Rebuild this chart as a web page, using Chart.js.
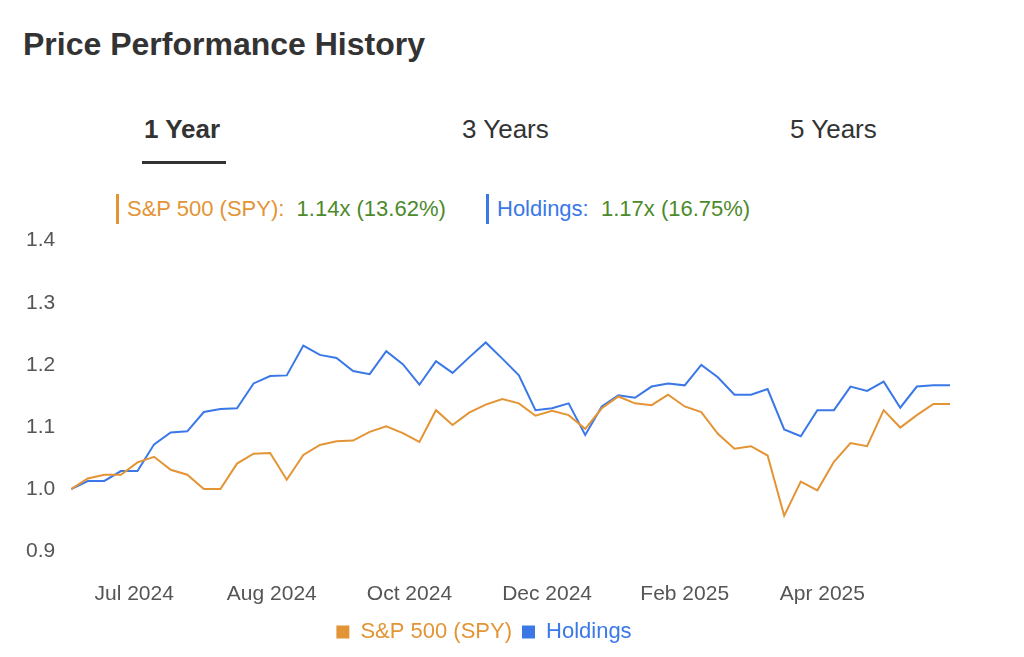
<!DOCTYPE html>
<html>
<head>
<meta charset="utf-8">
<script src="https://cdn.jsdelivr.net/npm/chart.js@4"></script>
<style>
  body { margin: 0; background: #fff; font-family: "Liberation Sans", Arial, sans-serif; width: 1024px; height: 657px; overflow: hidden; position: relative; }
  h1 { position: absolute; left: 23px; top: 26px; margin: 0; font-size: 32px; font-weight: bold; color: #333; }
  .tab { position: absolute; top: 114px; font-size: 26px; color: #333; }
  .tab.active { font-weight: bold; }
  .underline { position: absolute; left: 142px; top: 161px; width: 84px; height: 3px; background: #333; }
  .summary { position: absolute; top: 194px; font-size: 22px; color: #e39435; padding-left: 8px; border-left: 3px solid #e39435; height: 30px; line-height: 30px; }
  .summary.blue { color: #3a78e7; border-left-color: #3a78e7; }
  .summary span { color: #4c8a2b; }
  #wrap { position: absolute; left: 0; top: 220px; width: 1000px; height: 433px; }
</style>
</head>
<body>
<h1>Price Performance History</h1>
<div class="tab active" style="left:144px">1 Year</div>
<div class="underline"></div>
<div class="tab" style="left:462px">3 Years</div>
<div class="tab" style="left:790px">5 Years</div>
<div class="summary" style="left:116px">S&amp;P 500 (SPY):&nbsp; <span>1.14x (13.62%)</span></div>
<div class="summary blue" style="left:486px">Holdings:&nbsp; <span>1.17x (16.75%)</span></div>
<div id="wrap"><canvas id="c"></canvas></div>
<script>
const spy = [1.000, 1.017, 1.023, 1.023, 1.043, 1.052, 1.031, 1.023, 1.000, 1.000,
  1.041, 1.057, 1.058, 1.015, 1.055, 1.071, 1.077, 1.078, 1.092, 1.101,
  1.090, 1.076, 1.127, 1.103, 1.123, 1.136, 1.145, 1.138, 1.118, 1.126,
  1.119, 1.097, 1.130, 1.149, 1.138, 1.135, 1.152, 1.133, 1.124, 1.089,
  1.065, 1.069, 1.054, 0.957, 1.012, 0.998, 1.044, 1.074, 1.069, 1.127,
  1.099, 1.119, 1.137, 1.137];
const holdings = [1.000, 1.013, 1.013, 1.029, 1.029, 1.072, 1.091, 1.093, 1.124, 1.129,
  1.130, 1.170, 1.182, 1.183, 1.231, 1.216, 1.211, 1.190, 1.185, 1.222,
  1.201, 1.168, 1.206, 1.187, 1.212, 1.236, 1.210, 1.183, 1.127, 1.130,
  1.138, 1.087, 1.133, 1.151, 1.147, 1.165, 1.170, 1.167, 1.200, 1.180,
  1.152, 1.152, 1.161, 1.096, 1.085, 1.127, 1.127, 1.165, 1.158, 1.173,
  1.131, 1.165, 1.167, 1.167];
const xTickPos = [3.8, 12.1, 20.4, 28.7, 37.0, 45.3];
const xTickLabels = ['Jul 2024', 'Aug 2024', 'Oct 2024', 'Dec 2024', 'Feb 2025', 'Apr 2025'];
const yTicks = [0.9, 1.0, 1.1, 1.2, 1.3, 1.4];

const pts = arr => arr.map((v, i) => ({ x: i, y: v }));
const font = "'Liberation Sans', Arial, sans-serif";

new Chart(document.getElementById('c'), {
  type: 'line',
  data: {
    datasets: [
      { label: 'S&P 500 (SPY)', data: pts(spy), borderColor: '#e39435', backgroundColor: '#e39435', borderWidth: 2, pointRadius: 0, tension: 0 },
      { label: 'Holdings', data: pts(holdings), borderColor: '#3a78e7', backgroundColor: '#3a78e7', borderWidth: 2, pointRadius: 0, tension: 0 }
    ]
  },
  options: {
    responsive: true,
    maintainAspectRatio: false,
    animation: false,
    layout: { padding: { left: 18, right: 50, top: 8 } },
    plugins: {
      legend: {
        position: 'bottom',
        labels: { usePointStyle: true, pointStyle: 'rect', boxWidth: 13, boxHeight: 13, padding: 10,
          font: { family: font, size: 22 },
          generateLabels: chart => chart.data.datasets.map((d, i) => ({
            text: d.label, fillStyle: d.borderColor, strokeStyle: d.borderColor, pointStyle: 'rect', datasetIndex: i, fontColor: d.borderColor, lineWidth: 0
          }))
        }
      },
      tooltip: { enabled: false }
    },
    scales: {
      x: {
        type: 'linear', min: 0, max: spy.length - 1,
        grid: { display: false }, border: { display: false },
        afterBuildTicks: axis => { axis.ticks = xTickPos.map(v => ({ value: v })); },
        ticks: { color: '#555', font: { family: font, size: 21 }, maxRotation: 0, padding: 4,
          callback: (v, i) => xTickLabels[i] }
      },
      y: {
        min: 0.87, max: 1.4,
        grid: { display: false }, border: { display: false },
        afterBuildTicks: axis => { axis.ticks = yTicks.map(v => ({ value: v })); },
        ticks: { color: '#555', font: { family: font, size: 21 }, padding: 8,
          callback: v => v.toFixed(1) }
      }
    }
  }
});
</script>
</body>
</html>
